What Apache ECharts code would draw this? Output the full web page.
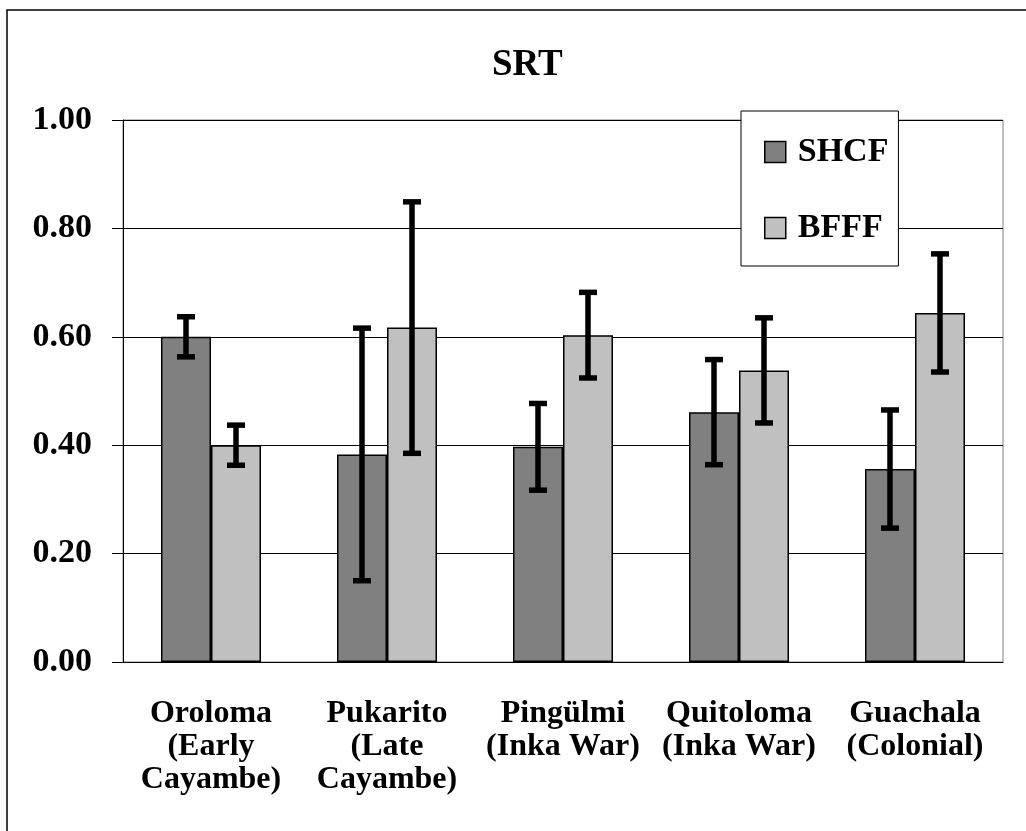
<!DOCTYPE html>
<html>
<head>
<meta charset="utf-8">
<script src="https://cdn.jsdelivr.net/npm/echarts@6/dist/echarts.min.js"></script>
<style>
  html, body { margin: 0; padding: 0; background: #fff; }
  #SrtChart { width: 1026px; height: 831px; }
</style>
</head>
<body>
<div id="SrtChart"></div>
<script>
const FONT = "'Liberation Serif', 'Times New Roman', serif";

const categories = [
  'Oroloma\n(Early\nCayambe)',
  'Pukarito\n(Late\nCayambe)',
  'Pingülmi\n(Inka War)',
  'Quitoloma\n(Inka War)',
  'Guachala\n(Colonial)'
];
const shcfValues = [0.600, 0.383, 0.397, 0.461, 0.356];
const shcfErrors = [0.037, 0.233, 0.080, 0.097, 0.109];
const bfffValues = [0.400, 0.617, 0.603, 0.538, 0.644];
const bfffErrors = [0.037, 0.232, 0.079, 0.097, 0.109];

const BAR_W = 50;

// [index, low, high] for the error bar series
function errRows(values, errors) {
  return values.map((v, i) => [i, v - errors[i], v + errors[i]]);
}

function errorBars(offset) {
  return function (params, api) {
    const i = api.value(0);
    const lo = api.coord([i, api.value(1)]);
    const hi = api.coord([i, api.value(2)]);
    const x = lo[0] + offset;
    const style = { stroke: '#000', lineWidth: 5.5 };
    const half = 9;
    return {
      type: 'group',
      children: [
        { type: 'line', shape: { x1: x, y1: hi[1], x2: x, y2: lo[1] }, style: style },
        { type: 'line', shape: { x1: x - half, y1: hi[1], x2: x + half, y2: hi[1] }, style: style },
        { type: 'line', shape: { x1: x - half, y1: lo[1], x2: x + half, y2: lo[1] }, style: style }
      ]
    };
  };
}

const myChart = echarts.init(document.getElementById('SrtChart'));
const option = {
  animation: false,
  backgroundColor: '#fff',
  textStyle: { fontFamily: FONT },
  graphic: [
    {
      type: 'rect',
      shape: { x: 7, y: 10, width: 1040, height: 840 },
      style: { fill: 'none', stroke: '#000', lineWidth: 1.5 },
      silent: true
    }
  ],
  title: {
    text: 'SRT',
    left: 487,
    top: 42,
    textStyle: { fontFamily: FONT, fontSize: 37, fontWeight: 'bold', color: '#000' }
  },
  legend: {
    data: ['SHCF', 'BFFF'],
    orient: 'vertical',
    left: 741,
    top: 111,
    padding: [24, 10, 21, 23],
    itemWidth: 21,
    itemHeight: 21,
    itemGap: 42,
    icon: 'rect',
    backgroundColor: '#fff',
    borderColor: '#000',
    borderWidth: 1,
    itemStyle: { borderColor: '#000', borderWidth: 1.5 },
    textStyle: {
      fontFamily: FONT, fontSize: 34, fontWeight: 'bold', color: '#000',
      lineHeight: 33, padding: [0, 0, 0, 7]
    }
  },
  grid: {
    left: 123, right: 23, top: 120, bottom: 169,
    show: true, borderColor: '#808080', borderWidth: 1
  },
  xAxis: {
    type: 'category',
    data: categories,
    axisLine: { lineStyle: { color: '#000', width: 1 } },
    axisTick: { length: 10, lineStyle: { color: '#000' } },
    axisLabel: {
      interval: 0,
      margin: 35,
      fontFamily: FONT, fontSize: 32, fontWeight: 'bold', color: '#000',
      lineHeight: 33
    }
  },
  yAxis: {
    type: 'value',
    min: 0,
    max: 1,
    interval: 0.2,
    axisLine: { show: true, lineStyle: { color: '#000', width: 1 } },
    axisTick: { show: true, length: 11, lineStyle: { color: '#000' } },
    splitLine: { lineStyle: { color: '#000', width: 1 } },
    axisLabel: {
      margin: 31,
      fontFamily: FONT, fontSize: 34, fontWeight: 'bold', color: '#000',
      formatter: v => v.toFixed(2)
    }
  },
  series: [
    {
      name: 'SHCF',
      type: 'bar',
      data: shcfValues,
      barWidth: BAR_W,
      barGap: '0%',
      itemStyle: { color: '#808080', borderColor: '#000', borderWidth: 1.5 }
    },
    {
      name: 'BFFF',
      type: 'bar',
      data: bfffValues,
      barWidth: BAR_W,
      barGap: '0%',
      itemStyle: { color: '#c0c0c0', borderColor: '#000', borderWidth: 1.5 }
    },
    {
      name: 'SHCF error',
      type: 'custom',
      renderItem: errorBars(-BAR_W / 2),
      data: errRows(shcfValues, shcfErrors),
      encode: { x: 0, y: [1, 2] },
      z: 5
    },
    {
      name: 'BFFF error',
      type: 'custom',
      renderItem: errorBars(BAR_W / 2),
      data: errRows(bfffValues, bfffErrors),
      encode: { x: 0, y: [1, 2] },
      z: 5
    }
  ]
};
myChart.setOption(option);
</script>
</body>
</html>
